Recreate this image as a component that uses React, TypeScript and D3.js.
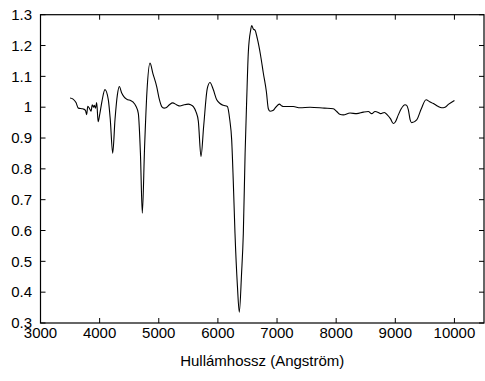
import React from "react";
import * as d3 from "d3";

const wavelength = [
  3500, 3545, 3600, 3640, 3700, 3725, 3760, 3780, 3800, 3830, 3855, 3875, 3895, 3910, 3930, 3950, 3975,
  4000, 4040, 4090, 4147, 4180, 4221, 4260, 4300, 4333, 4373, 4420, 4458, 4530, 4569, 4610, 4654, 4690,
  4722, 4760, 4800, 4852, 4900, 4965, 5010, 5050, 5090, 5122, 5180, 5235, 5300, 5359, 5430, 5500, 5540,
  5585, 5630, 5669, 5714, 5760, 5820, 5866, 5920, 5980, 6036, 6092, 6160, 6200, 6233, 6260, 6289, 6330,
  6362, 6400, 6430, 6460, 6487, 6515, 6555, 6571, 6600, 6627, 6667, 6720, 6768, 6820, 6853, 6881, 6930,
  6980, 7039, 7080, 7106, 7275, 7389, 7558, 7800, 7952, 8010, 8060, 8121, 8234, 8347, 8460, 8544, 8601,
  8657, 8713, 8753, 8815, 8865, 8920, 8967, 9000, 9051, 9100, 9165, 9193, 9220, 9250, 9278, 9362, 9440,
  9520, 9580, 9644, 9720, 9785, 9841, 9897, 10000,
];
const flux = [
  1.03, 1.027, 1.015, 0.997, 0.995, 0.994, 0.99, 0.976, 1.003, 0.995, 0.987, 1.008, 1.0, 1.006, 0.997, 1.015, 0.953,
  0.975, 1.02, 1.057, 1.024, 0.96, 0.851, 0.96, 1.04, 1.067, 1.046, 1.032, 1.026, 1.021, 1.016, 1.005, 0.98, 0.85,
  0.656, 0.87, 1.05, 1.143, 1.11, 1.067, 1.025, 1.002, 0.997, 0.998, 1.008, 1.014, 1.008, 1.004, 1.008, 1.01, 1.008,
  1.002, 0.985, 0.955, 0.84, 0.94, 1.06, 1.08, 1.058, 1.024, 1.012, 1.006, 1.002, 0.96, 0.894, 0.76, 0.591, 0.42,
  0.335, 0.46, 0.591, 0.85, 1.024, 1.18, 1.251, 1.265, 1.253, 1.25, 1.222, 1.17, 1.111, 1.05, 0.995, 0.987, 0.989,
  1.0, 1.01, 1.004, 1.002, 1.002, 0.998, 1.0, 0.997, 0.995, 0.986, 0.977, 0.975, 0.981, 0.979, 0.984, 0.986, 0.979,
  0.986, 0.983, 0.979, 0.983, 0.975, 0.962, 0.947, 0.952, 0.975, 0.995, 1.008, 1.006, 0.992, 0.96, 0.95, 0.959, 0.995,
  1.024, 1.018, 1.012, 1.003, 0.998, 1.0, 1.009, 1.022,
];
const xTicks = [3000, 4000, 5000, 6000, 7000, 8000, 9000, 10000];
const yTicks = [0.3, 0.4, 0.5, 0.6, 0.7, 0.8, 0.9, 1, 1.1, 1.2, 1.3];
const xLabel = "Hullámhossz (Angström)";

export default function App() {
  const W = 485, H = 381;
  const left = 40.5, right = 484, top = 14.7, bottom = 323;
  const x = d3.scaleLinear().domain([3000, 10500]).range([left, right]);
  const y = d3.scaleLinear().domain([0.3, 1.3]).range([bottom, top]);
  const pts: [number, number][] = wavelength.map((w, i) => [w, flux[i]]);
  const line = d3
    .line<[number, number]>()
    .x((d) => x(d[0]))
    .y((d) => y(d[1]))
    .curve(d3.curveMonotoneX);
  const font = "'Liberation Sans', Arial, Helvetica, sans-serif";
  const tl = 5;
  return (
    <svg
      width={W}
      height={H}
      style={{ position: "absolute", left: 0, top: 0, background: "#fff" }}
    >
      <rect x={0} y={0} width={W} height={H} fill="#fff" />
      {xTicks.map((t) => (
        <g key={"x" + t}>
          <line x1={x(t)} x2={x(t)} y1={bottom} y2={bottom - tl} stroke="#000" strokeWidth={1} />
          <line x1={x(t)} x2={x(t)} y1={top} y2={top + tl} stroke="#000" strokeWidth={1} />
          <text x={x(t)} y={337.5} textAnchor="middle" fontFamily={font} fontSize={15}>
            {t}
          </text>
        </g>
      ))}
      {yTicks.map((t) => (
        <g key={"y" + t}>
          <line x1={left} x2={left + tl} y1={y(t)} y2={y(t)} stroke="#000" strokeWidth={1} />
          <line x1={right} x2={right - tl} y1={y(t)} y2={y(t)} stroke="#000" strokeWidth={1} />
          <text
            x={32}
            y={y(t) + 5.3}
            textAnchor="end"
            fontFamily={font}
            fontSize={15}
          >
            {d3.format("")(t)}
          </text>
        </g>
      ))}
      <rect
        x={left}
        y={top}
        width={right - left}
        height={bottom - top}
        fill="none"
        stroke="#000"
        strokeWidth={1.2}
      />
      <path d={line(pts) || ""} fill="none" stroke="#000" strokeWidth={1.1} />
      <text x={(left + right) / 2} y={366} textAnchor="middle" fontFamily={font} fontSize={15}>
        {xLabel}
      </text>
    </svg>
  );
}
